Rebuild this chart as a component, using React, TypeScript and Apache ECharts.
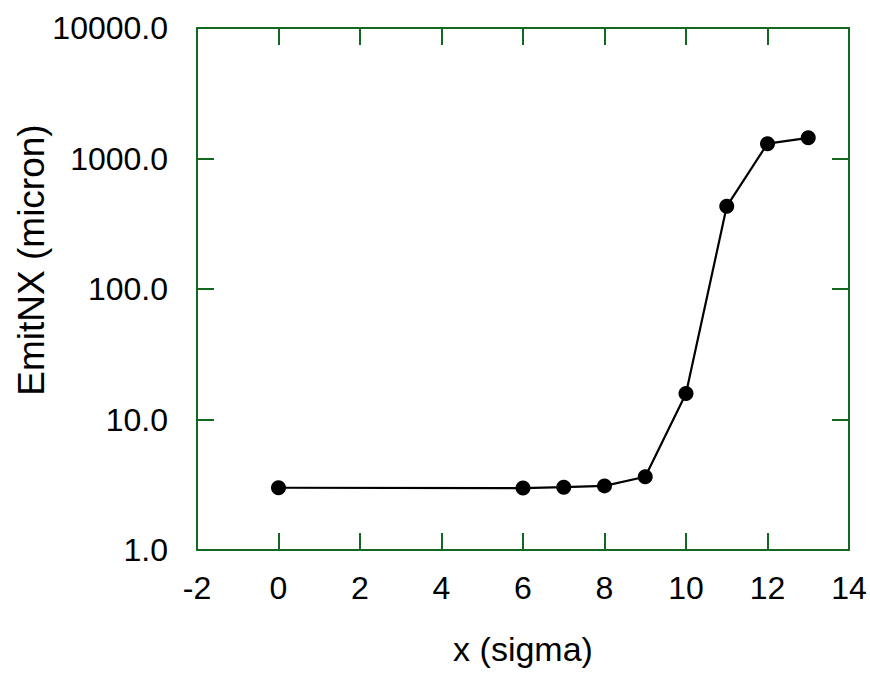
import React, { useEffect, useRef } from "react";
import * as echarts from "echarts";

const xValues = [0, 6, 7, 8, 9, 10, 11, 12, 13];
const emitValues = [3.0, 2.98, 3.03, 3.1, 3.64, 15.8, 430, 1300, 1440];
const xTicks = { min: -2, max: 14, interval: 2 };
const yRange = { min: 1, max: 10000 };
const xTitle = "x (sigma)";
const yTitle = "EmitNX (micron)";

const GREEN = "#13691f";
const FONT = "'Liberation Sans', Arial, sans-serif";

export default function App() {
  const ref = useRef<HTMLDivElement>(null);
  useEffect(() => {
    if (!ref.current) return;
    const chart = echarts.init(ref.current, undefined, { renderer: "svg" });
    const axisLine = { show: true, onZero: false, lineStyle: { color: GREEN, width: 2 } };
    const axisTick = { show: true, inside: true, length: 17, lineStyle: { color: GREEN, width: 2 } };
    chart.setOption({
      animation: false,
      backgroundColor: "#ffffff",
      grid: { left: 197, top: 28, right: 21, bottom: 127, containLabel: false },
      xAxis: [
        {
          type: "value",
          min: xTicks.min,
          max: xTicks.max,
          interval: xTicks.interval,
          position: "bottom",
          axisLine,
          axisTick,
          splitLine: { show: false },
          axisLabel: { margin: 22, color: "#000", fontSize: 32, fontFamily: FONT },
          name: xTitle,
          nameLocation: "middle",
          nameGap: 82,
          nameTextStyle: { color: "#000", fontSize: 34, fontFamily: FONT },
        },
        {
          type: "value",
          min: xTicks.min,
          max: xTicks.max,
          interval: xTicks.interval,
          position: "top",
          axisLine,
          axisTick,
          splitLine: { show: false },
          axisLabel: { show: false },
        },
      ],
      yAxis: [
        {
          type: "log",
          logBase: 10,
          min: yRange.min,
          max: yRange.max,
          position: "left",
          axisLine,
          axisTick,
          minorTick: { show: false },
          splitLine: { show: false },
          axisLabel: {
            margin: 29,
            color: "#000",
            fontSize: 32,
            fontFamily: FONT,
            formatter: (v: number) => v.toFixed(1),
          },
        },
        {
          type: "log",
          logBase: 10,
          min: yRange.min,
          max: yRange.max,
          position: "right",
          axisLine,
          axisTick,
          splitLine: { show: false },
          axisLabel: { show: false },
        },
      ],
      graphic: [
        {
          type: "text",
          x: 31,
          y: 260,
          rotation: Math.PI / 2,
          style: {
            text: yTitle,
            fill: "#000",
            font: `37px ${FONT}`,
            align: "center",
            verticalAlign: "middle",
          },
        },
      ],
      series: [
        {
          type: "line",
          xAxisIndex: 0,
          yAxisIndex: 0,
          data: xValues.map((x, i) => [x, emitValues[i]]),
          symbol: "circle",
          symbolSize: 15,
          itemStyle: { color: "#000" },
          lineStyle: { color: "#000", width: 2.2 },
        },
      ],
    });
    return () => chart.dispose();
  }, []);
  return (
    <div
      ref={ref}
      style={{ position: "absolute", left: 0, top: 0, width: 870, height: 677 }}
    />
  );
}
